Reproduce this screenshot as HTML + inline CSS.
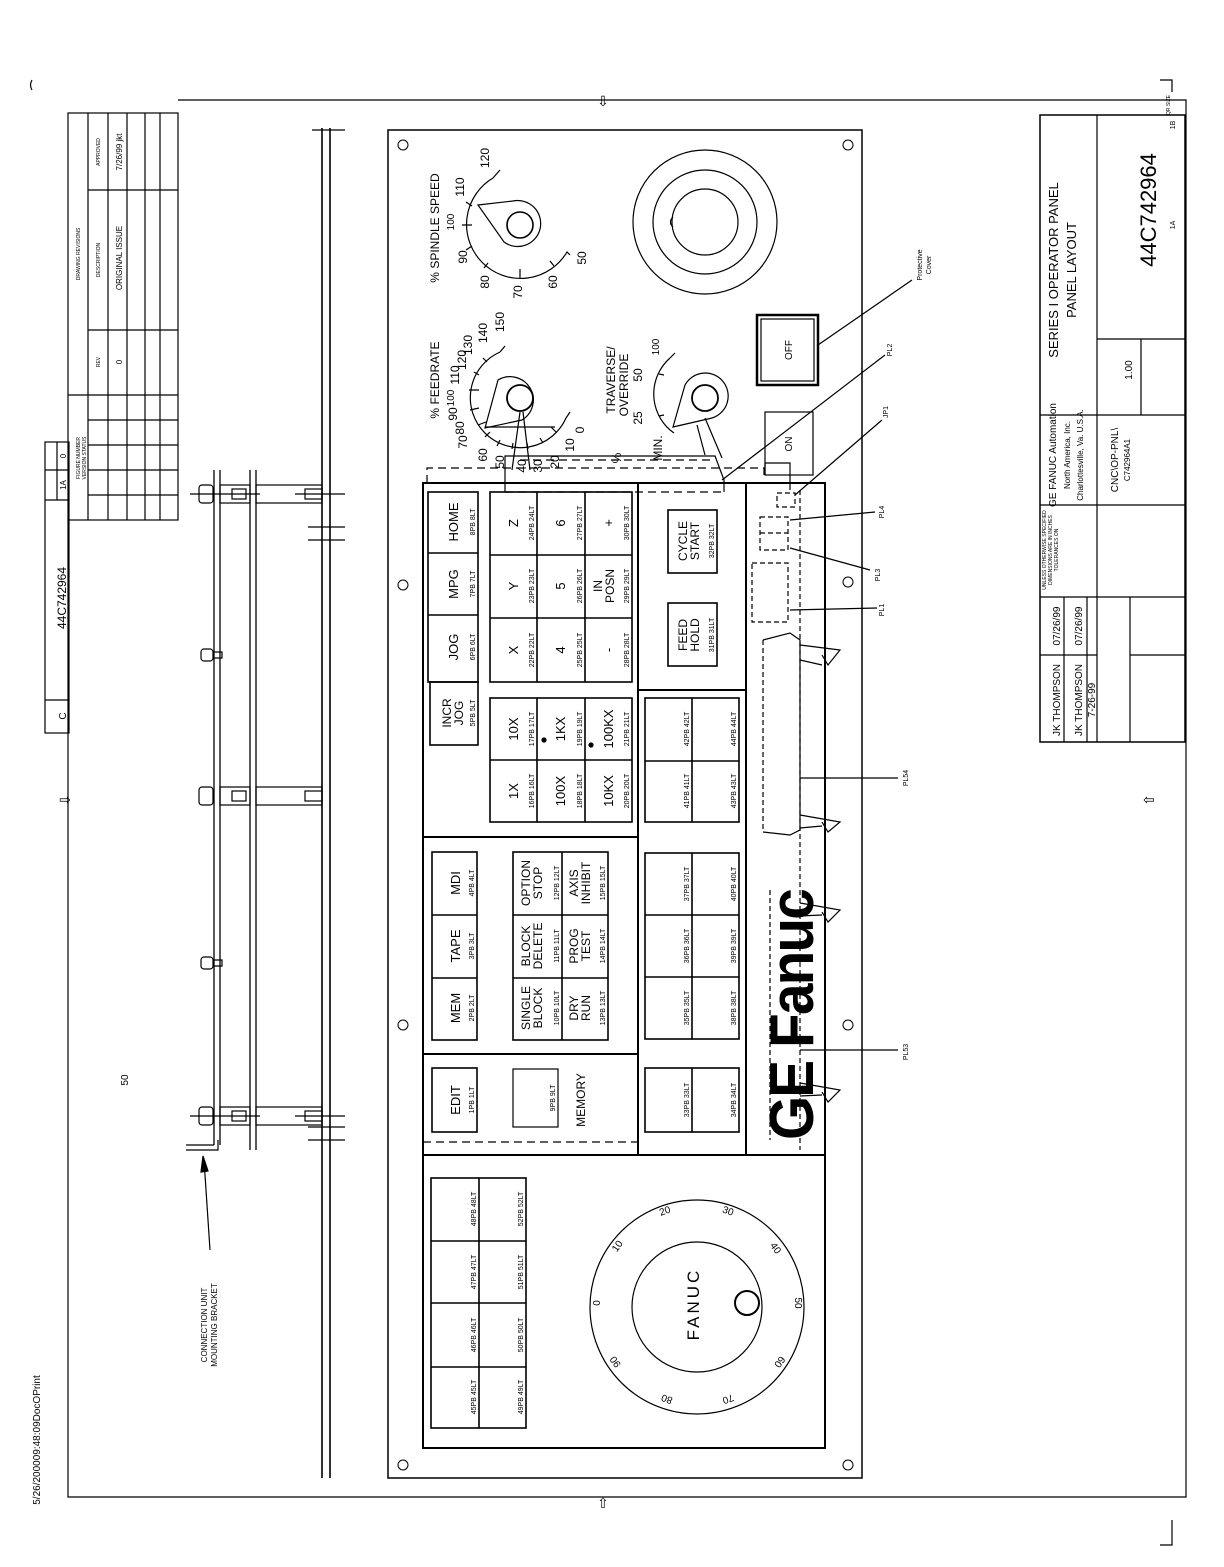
<!DOCTYPE html>
<html><head><meta charset="utf-8"><style>
html,body{margin:0;padding:0;background:#fff}
svg{display:block}
text{font-family:"Liberation Sans",sans-serif;fill:#000}
.m{text-anchor:middle}
.s8{font-size:8px}.s7{font-size:7px}.s5{font-size:5px}
.s12{font-size:12px}.s13{font-size:13px}.s10{font-size:10px}
</style></head><body>
<svg width="1224" height="1567" viewBox="0 0 1224 1567" xmlns="http://www.w3.org/2000/svg">
<g fill="none" stroke="#000" stroke-width="1.2">
<!-- border -->
<path d="M178 100 H1186 V1497 H68 V520"/>
<path d="M32 80 q-3 5 0 10 M1160 80 H1172 V92 M1172 1520 V1545 H1160"/>
<!-- revision table -->
<rect x="68" y="113" width="110" height="407"/>
<path d="M88 113V520M108 113V520M127 113V520M145 113V520M160 113V520M68 395H178M88 190H178M88 330H178M88 420H178M88 445H178M88 470H178M88 495H178"/>
<!-- small box -->
<rect x="45" y="442" width="24" height="291"/>
<path d="M45 470H69M45 500H69M45 700H69M57 442V500"/>
<!-- side view -->
<path d="M322 128V1478M330 128V1478" stroke-width="1.6"/>
<path d="M214 470V1145M220 470V1145M250 470V1150M256 470V1150" stroke-width="1.3"/>
<path d="M186 1150H218V1140M186 1145H214"/>
<g stroke-width="1.2">
<rect x="220" y="485" width="30" height="18"/><rect x="256" y="485" width="66" height="18"/>
<rect x="220" y="787" width="30" height="18"/><rect x="256" y="787" width="66" height="18"/>
<rect x="220" y="1107" width="30" height="18"/><rect x="256" y="1107" width="66" height="18"/>
<rect x="232" y="489" width="14" height="10"/><rect x="305" y="489" width="17" height="10"/>
<rect x="232" y="791" width="14" height="10"/><rect x="305" y="791" width="17" height="10"/>
<rect x="232" y="1111" width="14" height="10"/><rect x="305" y="1111" width="17" height="10"/>
<rect x="199" y="485" width="14" height="18" rx="3"/><rect x="199" y="787" width="14" height="18" rx="3"/><rect x="199" y="1107" width="14" height="18" rx="3"/>
<rect x="201" y="649" width="12" height="12" rx="3"/><path d="M213 652H222V658H213"/>
<rect x="201" y="957" width="12" height="12" rx="3"/><path d="M213 960H222V966H213"/>
<path d="M190 494H260M295 494H345M190 1116H260M295 1116H345M308 527H345M308 540H345M308 1127H345M308 1140H345M312 130H345"/>
</g>
<path d="M210 1250 L204 1160" />
<path d="M201 1172 L203 1156 L208 1171 Z" fill="#000"/>
<!-- panel -->
<rect x="388" y="130" width="474" height="1348" stroke-width="1.5"/>
<g stroke-width="1">
<circle cx="403" cy="145" r="5"/><circle cx="848" cy="145" r="5"/>
<circle cx="403" cy="585" r="5"/><circle cx="848" cy="582" r="5"/>
<circle cx="403" cy="1025" r="5"/><circle cx="848" cy="1025" r="5"/>
<circle cx="403" cy="1465" r="5"/><circle cx="848" cy="1465" r="5"/>
</g>
<rect x="423" y="483" width="402" height="965" stroke-width="2"/>
<path d="M638 483V1155M746 483V1155M423 1155H825M423 837H638M423 1054H638M638 690H746" stroke-width="2"/>
<path d="M423 1142H638" stroke-dasharray="8 5"/>
<g stroke-width="1.6">
<rect x="428" y="492" width="50" height="190"/>
<path d="M428 553H478M428 615H478"/>
<rect x="430" y="682" width="48" height="63"/>
<rect x="490" y="492" width="142" height="190"/>
<path d="M537 492V682M585 492V682M490 555H632M490 618H632"/>
<rect x="490" y="698" width="142" height="124"/>
<path d="M537 698V822M585 698V822M490 760H632"/>
<rect x="432" y="852" width="45" height="188"/>
<path d="M432 915H477M432 978H477"/>
<rect x="513" y="852" width="95" height="188"/>
<path d="M562 852V1040M513 915H608M513 978H608"/>
<rect x="432" y="1068" width="45" height="64"/>
<rect x="513" y="1069" width="45" height="58" stroke-width="1.2"/>
<rect x="668" y="510" width="49" height="63"/>
<rect x="668" y="603" width="49" height="63"/>
<rect x="645" y="698" width="94" height="124"/>
<path d="M692 698V822M645 761H739"/>
<rect x="645" y="853" width="94" height="186"/>
<path d="M692 853V1039M645 915H739M645 977H739"/>
<rect x="645" y="1068" width="94" height="64"/>
<path d="M692 1068V1132"/>
<rect x="431" y="1178" width="95" height="250"/>
<path d="M479 1178V1428M431 1241H526M431 1303H526M431 1367H526"/>
</g>
<circle cx="544" cy="740" r="2" fill="#000"/><circle cx="591" cy="745" r="2" fill="#000"/>
<!-- handwheel -->
<circle cx="697" cy="1307" r="107"/>
<circle cx="697" cy="1307" r="65"/>
<circle cx="747" cy="1303" r="12" stroke-width="2"/>
<!-- top dials -->
<circle cx="705" cy="222" r="72"/>
<circle cx="705" cy="222" r="52"/>
<circle cx="705" cy="222" r="33"/>
<path d="M673 217 q-5 5 0 10" />
<rect x="757" y="315" width="61" height="70" stroke-width="2.5"/>
<rect x="761" y="319" width="53" height="62"/>
<rect x="765" y="412" width="48" height="63"/>
<path d="M765 475 V463 H790 V490"/>
<!-- spindle -->
<circle cx="520" cy="225" r="13" stroke-width="1.6"/>
<path d="M478 205 L513 201 A23 23 0 1 1 504 242 Z"/>
<path d="M493 178 A54 54 0 1 0 567 252 L570 255"/>
<path d="M493 178 L500 170 M466 202l6 4M462 225h10M466 250l6-4M484 268l4-5M520 279v-10M554 266l-4-5"/>
<!-- feedrate -->
<circle cx="520" cy="398" r="13" stroke-width="1.8"/>
<path d="M485 428 L498 380 A23 23 0 1 1 522 420 Z"/>
<path d="M500 352 A50 50 0 1 0 566 418 L570 412"/>
<path d="M500 352 L505 346M483 358l4 4M474 372l5 3M469 390h10M470 410l9-2M478 425l8-3M485 437l5-5M497 446l3-6M512 449l1-6M528 449l-1-6M543 443l-3-5M556 432l-5-5M485 427H555"/>
<path d="M520 412 L512 470 M523 412 L530 470"/>
<!-- traverse -->
<circle cx="705" cy="398" r="13" stroke-width="1.8"/>
<path d="M673 427 L685 385 A23 23 0 1 1 712 418 Z"/>
<path d="M670 358 A48 48 0 0 0 670 430"/>
<path d="M670 358l5-5M659 374l5 1M659 416l5-1M670 430l4 3"/>
<path d="M705 418 L722 458 M697 425 L705 455"/>
<!-- connectors -->
<path d="M505 492 V456 H715 L724 480 V492" />
<path d="M427 483 V468 H764 V478" stroke-dasharray="8 5"/>
<path d="M505 492 H724 M520 460 H715" stroke-dasharray="8 5"/>
<g stroke-dasharray="5 3">
<rect x="777" y="493" width="18" height="14"/>
<rect x="760" y="517" width="28" height="33"/>
<path d="M760 533H788"/>
<rect x="752" y="563" width="36" height="59"/>
<path d="M763 640 V830 M800 490 V1150"/>
<path d="M770 890 V1140"/>
</g>
<path d="M763 640 L790 633 L800 640 V830 L790 835 L763 832"/>
<path d="M800 645 L840 650 L828 665 L822 655 M800 660 L822 665"/>
<path d="M800 815 L840 822 L828 832 L822 822 M800 828 L822 826"/>
<path d="M800 903 L840 910 L828 922 L822 912 M800 916 L822 915"/>
<path d="M800 1083 L840 1090 L828 1102 L822 1092 M800 1096 L822 1095"/>
<!-- leaders -->
<path d="M818 345 L912 280 M722 480 L885 355 M795 495 L882 420 M790 520 L875 512 M790 548 L870 570 M790 610 L877 608 M800 778 L898 778 M800 1050 L898 1050"/>
<!-- title block -->
<rect x="1040" y="115" width="145" height="627" stroke-width="1.5"/>
<path d="M1097 115V742M1097 339H1185M1040 415H1185M1040 505H1185M1040 597H1185M1141 339V415M1064 597V742M1087 597V742M1040 655H1097M1130 597V742M1130 655H1185"/>
</g>
<g font-size="14" class="m">
<text x="603" y="106" class="m">⇩</text>
<text x="603" y="1508" class="m">⇧</text>
<text transform="translate(70 800) rotate(-90)" class="m">⇩</text>
<text transform="translate(1154 800) rotate(-90)" class="m">⇧</text>
</g>

<g class="m">
<text class="s5" transform="translate(80 254) rotate(-90)">DRAWING REVISIONS</text>
<text class="s5" transform="translate(100 260) rotate(-90)">DESCRIPTION</text>
<text class="s5" transform="translate(100 152) rotate(-90)">APPROVED</text>
<text class="s5" transform="translate(100 362) rotate(-90)">REV</text>
<text class="s8" transform="translate(122 258) rotate(-90)">ORIGINAL ISSUE</text>
<text class="s8" transform="translate(122 152) rotate(-90)">7/26/99 jkt</text>
<text class="s8" transform="translate(122 362) rotate(-90)">0</text>
<text class="s5" transform="translate(80 458) rotate(-90)">FIGURE NUMBER</text>
<text class="s5" transform="translate(86 458) rotate(-90)">VERSION STATUS</text>
<text class="s12" transform="translate(66 598) rotate(-90)">44C742964</text>
<text class="s10" transform="translate(66 716) rotate(-90)">C</text>
<text class="s8" transform="translate(66 485) rotate(-90)">1A</text>
<text class="s8" transform="translate(66 456) rotate(-90)">0</text>
<text class="s10" transform="translate(128 1080) rotate(-90)">50</text>
<text class="s8" transform="translate(207 1325) rotate(-90)">CONNECTION UNIT</text>
<text class="s8" transform="translate(217 1325) rotate(-90)">MOUNTING BRACKET</text>
<text class="s10" transform="translate(40 1440) rotate(-90)">5/26/200009:48:09DocOPrint</text>

<text class="s13" transform="translate(458 522) rotate(-90)">HOME</text><text class="s7" transform="translate(475 522) rotate(-90)">8PB   8LT</text>
<text class="s13" transform="translate(458 584) rotate(-90)">MPG</text><text class="s7" transform="translate(475 584) rotate(-90)">7PB   7LT</text>
<text class="s13" transform="translate(458 647) rotate(-90)">JOG</text><text class="s7" transform="translate(475 647) rotate(-90)">6PB   6LT</text>
<text class="s12" transform="translate(451 713) rotate(-90)">INCR</text><text class="s12" transform="translate(463 713) rotate(-90)">JOG</text><text class="s7" transform="translate(475 713) rotate(-90)">5PB   5LT</text>

<text class="s13" transform="translate(518 523) rotate(-90)">Z</text><text class="s7" transform="translate(534 523) rotate(-90)">24PB 24LT</text>
<text class="s13" transform="translate(518 586) rotate(-90)">Y</text><text class="s7" transform="translate(534 586) rotate(-90)">23PB 23LT</text>
<text class="s13" transform="translate(518 650) rotate(-90)">X</text><text class="s7" transform="translate(534 650) rotate(-90)">22PB 22LT</text>
<text class="s13" transform="translate(565 523) rotate(-90)">6</text><text class="s7" transform="translate(582 523) rotate(-90)">27PB 27LT</text>
<text class="s13" transform="translate(565 586) rotate(-90)">5</text><text class="s7" transform="translate(582 586) rotate(-90)">26PB 26LT</text>
<text class="s13" transform="translate(565 650) rotate(-90)">4</text><text class="s7" transform="translate(582 650) rotate(-90)">25PB 25LT</text>
<text class="s13" transform="translate(613 523) rotate(-90)">+</text><text class="s7" transform="translate(629 523) rotate(-90)">30PB 30LT</text>
<text class="s12" transform="translate(602 586) rotate(-90)">IN</text><text class="s12" transform="translate(614 586) rotate(-90)">POSN</text><text class="s7" transform="translate(629 586) rotate(-90)">29PB 29LT</text>
<text class="s13" transform="translate(613 650) rotate(-90)">-</text><text class="s7" transform="translate(629 650) rotate(-90)">28PB 28LT</text>

<text class="s13" transform="translate(518 729) rotate(-90)">10X</text><text class="s7" transform="translate(534 729) rotate(-90)">17PB 17LT</text>
<text class="s13" transform="translate(518 791) rotate(-90)">1X</text><text class="s7" transform="translate(534 791) rotate(-90)">16PB 16LT</text>
<text class="s13" transform="translate(565 729) rotate(-90)">1KX</text><text class="s7" transform="translate(582 729) rotate(-90)">19PB 19LT</text>
<text class="s13" transform="translate(565 791) rotate(-90)">100X</text><text class="s7" transform="translate(582 791) rotate(-90)">18PB 18LT</text>
<text class="s13" transform="translate(613 729) rotate(-90)">100KX</text><text class="s7" transform="translate(629 729) rotate(-90)">21PB 21LT</text>
<text class="s13" transform="translate(613 791) rotate(-90)">10KX</text><text class="s7" transform="translate(629 791) rotate(-90)">20PB 20LT</text>

<text class="s13" transform="translate(460 883) rotate(-90)">MDI</text><text class="s7" transform="translate(474 883) rotate(-90)">4PB   4LT</text>
<text class="s13" transform="translate(460 946) rotate(-90)">TAPE</text><text class="s7" transform="translate(474 946) rotate(-90)">3PB   3LT</text>
<text class="s13" transform="translate(460 1008) rotate(-90)">MEM</text><text class="s7" transform="translate(474 1008) rotate(-90)">2PB   2LT</text>
<text class="s12" transform="translate(530 883) rotate(-90)">OPTION</text><text class="s12" transform="translate(542 883) rotate(-90)">STOP</text><text class="s7" transform="translate(559 883) rotate(-90)">12PB 12LT</text>
<text class="s12" transform="translate(530 946) rotate(-90)">BLOCK</text><text class="s12" transform="translate(542 946) rotate(-90)">DELETE</text><text class="s7" transform="translate(559 946) rotate(-90)">11PB 11LT</text>
<text class="s12" transform="translate(530 1008) rotate(-90)">SINGLE</text><text class="s12" transform="translate(542 1008) rotate(-90)">BLOCK</text><text class="s7" transform="translate(559 1008) rotate(-90)">10PB 10LT</text>
<text class="s12" transform="translate(578 883) rotate(-90)">AXIS</text><text class="s12" transform="translate(590 883) rotate(-90)">INHIBIT</text><text class="s7" transform="translate(605 883) rotate(-90)">15PB 15LT</text>
<text class="s12" transform="translate(578 946) rotate(-90)">PROG</text><text class="s12" transform="translate(590 946) rotate(-90)">TEST</text><text class="s7" transform="translate(605 946) rotate(-90)">14PB 14LT</text>
<text class="s12" transform="translate(578 1008) rotate(-90)">DRY</text><text class="s12" transform="translate(590 1008) rotate(-90)">RUN</text><text class="s7" transform="translate(605 1008) rotate(-90)">13PB 13LT</text>

<text class="s13" transform="translate(460 1100) rotate(-90)">EDIT</text><text class="s7" transform="translate(474 1100) rotate(-90)">1PB   1LT</text>
<text class="s7" transform="translate(555 1098) rotate(-90)">9PB   9LT</text>
<text class="s12" transform="translate(585 1100) rotate(-90)">MEMORY</text>

<text class="s12" transform="translate(687 541) rotate(-90)">CYCLE</text><text class="s12" transform="translate(699 541) rotate(-90)">START</text><text class="s7" transform="translate(714 541) rotate(-90)">32PB 32LT</text>
<text class="s12" transform="translate(687 635) rotate(-90)">FEED</text><text class="s12" transform="translate(699 635) rotate(-90)">HOLD</text><text class="s7" transform="translate(714 635) rotate(-90)">31PB 31LT</text>
<text class="s7" transform="translate(689 729) rotate(-90)">42PB     42LT</text><text class="s7" transform="translate(689 791) rotate(-90)">41PB     41LT</text>
<text class="s7" transform="translate(736 729) rotate(-90)">44PB     44LT</text><text class="s7" transform="translate(736 791) rotate(-90)">43PB     43LT</text>
<text class="s7" transform="translate(689 884) rotate(-90)">37PB     37LT</text><text class="s7" transform="translate(689 946) rotate(-90)">36PB     36LT</text><text class="s7" transform="translate(689 1008) rotate(-90)">35PB     35LT</text>
<text class="s7" transform="translate(736 884) rotate(-90)">40PB     40LT</text><text class="s7" transform="translate(736 946) rotate(-90)">39PB     39LT</text><text class="s7" transform="translate(736 1008) rotate(-90)">38PB     38LT</text>
<text class="s7" transform="translate(689 1100) rotate(-90)">33PB     33LT</text><text class="s7" transform="translate(736 1100) rotate(-90)">34PB     34LT</text>

<text class="s7" transform="translate(476 1209) rotate(-90)">48PB     48LT</text><text class="s7" transform="translate(476 1272) rotate(-90)">47PB     47LT</text><text class="s7" transform="translate(476 1335) rotate(-90)">46PB     46LT</text><text class="s7" transform="translate(476 1397) rotate(-90)">45PB     45LT</text>
<text class="s7" transform="translate(523 1209) rotate(-90)">52PB     52LT</text><text class="s7" transform="translate(523 1272) rotate(-90)">51PB     51LT</text><text class="s7" transform="translate(523 1335) rotate(-90)">50PB     50LT</text><text class="s7" transform="translate(523 1397) rotate(-90)">49PB     49LT</text>

<text style="font-size:17px;letter-spacing:3px" transform="translate(699 1304) rotate(-90)">FANUC</text>
<text class="s10" transform="translate(600 1303) rotate(-90)">0</text>
<text class="s10" transform="translate(620 1248) rotate(-55)">10</text>
<text class="s10" transform="translate(666 1214) rotate(-20)">20</text>
<text class="s10" transform="translate(727 1214) rotate(20)">30</text>
<text class="s10" transform="translate(773 1250) rotate(55)">40</text>
<text class="s10" transform="translate(795 1303) rotate(90)">50</text>
<text class="s10" transform="translate(777 1360) rotate(125)">60</text>
<text class="s10" transform="translate(727 1396) rotate(160)">70</text>
<text class="s10" transform="translate(668 1396) rotate(200)">80</text>
<text class="s10" transform="translate(618 1360) rotate(235)">90</text>

<text class="s12" transform="translate(439 228) rotate(-90)">% SPINDLE SPEED</text>
<text class="s12" transform="translate(489 158) rotate(-90)">120</text>
<text class="s12" transform="translate(464 187) rotate(-90)">110</text>
<text class="s12" transform="translate(467 257) rotate(-90)">90</text>
<text class="s12" transform="translate(489 282) rotate(-90)">80</text>
<text class="s12" transform="translate(522 292) rotate(-90)">70</text>
<text class="s12" transform="translate(557 282) rotate(-90)">60</text>
<text class="s12" transform="translate(586 258) rotate(-90)">50</text>
<text class="s10" transform="translate(454 222) rotate(-90)">100</text>
<text class="s12" transform="translate(439 380) rotate(-90)">% FEEDRATE</text>
<text class="s12" transform="translate(504 322) rotate(-90)">150</text>
<text class="s12" transform="translate(487 333) rotate(-90)">140</text>
<text class="s12" transform="translate(472 345) rotate(-90)">130</text>
<text class="s12" transform="translate(466 360) rotate(-90)">120</text>
<text class="s12" transform="translate(459 375) rotate(-90)">110</text>
<text class="s10" transform="translate(454 398) rotate(-90)">100</text>
<text class="s12" transform="translate(457 414) rotate(-90)">90</text>
<text class="s12" transform="translate(464 428) rotate(-90)">80</text>
<text class="s12" transform="translate(467 442) rotate(-90)">70</text>
<text class="s12" transform="translate(487 455) rotate(-90)">60</text>
<text class="s12" transform="translate(504 462) rotate(-90)">50</text>
<text class="s12" transform="translate(526 466) rotate(-90)">40</text>
<text class="s12" transform="translate(542 466) rotate(-90)">30</text>
<text class="s12" transform="translate(559 462) rotate(-90)">20</text>
<text class="s12" transform="translate(574 445) rotate(-90)">10</text>
<text class="s12" transform="translate(584 430) rotate(-90)">0</text>
<text class="s12" transform="translate(615 380) rotate(-90)">TRAVERSE/</text>
<text class="s12" transform="translate(628 385) rotate(-90)">OVERRIDE</text>
<text class="s12" transform="translate(642 375) rotate(-90)">50</text>
<text class="s12" transform="translate(642 418) rotate(-90)">25</text>
<text class="s12" transform="translate(662 448) rotate(-90)">MIN.</text>
<text class="s12" transform="translate(621 458) rotate(-90)">%</text>
<text class="s10" transform="translate(659 347) rotate(-90)">100</text>
<text class="s10" transform="translate(792 350) rotate(-90)">OFF</text>
<text class="s10" transform="translate(792 444) rotate(-90)">ON</text>

<text style="font-size:62px;font-weight:bold;letter-spacing:-2px" textLength="250" lengthAdjust="spacingAndGlyphs" transform="translate(813 1015) rotate(-90)">GE Fanuc</text>

<text class="s7" transform="translate(922 265) rotate(-90)">Protective</text>
<text class="s7" transform="translate(931 265) rotate(-90)">Cover</text>
<text class="s7" transform="translate(892 350) rotate(-90)">PL2</text>
<text class="s7" transform="translate(888 412) rotate(-90)">JP1</text>
<text class="s7" transform="translate(884 512) rotate(-90)">PL4</text>
<text class="s7" transform="translate(880 575) rotate(-90)">PL3</text>
<text class="s7" transform="translate(884 610) rotate(-90)">PL1</text>
<text class="s7" transform="translate(908 778) rotate(-90)">PL54</text>
<text class="s7" transform="translate(908 1052) rotate(-90)">PL53</text>

<text class="s13" transform="translate(1058 270) rotate(-90)">SERIES I OPERATOR PANEL</text>
<text class="s13" transform="translate(1076 270) rotate(-90)">PANEL LAYOUT</text>
<text style="font-size:22px" transform="translate(1156 210) rotate(-90)">44C742964</text>
<text class="s7" transform="translate(1175 225) rotate(-90)">1A</text>
<text class="s7" transform="translate(1175 125) rotate(-90)">1B</text>
<text class="s10" transform="translate(1132 370) rotate(-90)">1.00</text>
<text class="s10" transform="translate(1056 455) rotate(-90)">GE FANUC Automation</text>
<text class="s8" transform="translate(1070 455) rotate(-90)">North America, Inc.</text>
<text class="s8" transform="translate(1083 455) rotate(-90)">Charlottesville, Va. U.S.A.</text>
<text class="s10" transform="translate(1118 460) rotate(-90)">CNC\OP-PNL\</text>
<text class="s8" transform="translate(1130 460) rotate(-90)">C742964A1</text>
<text class="s5" transform="translate(1046 550) rotate(-90)">UNLESS OTHERWISE SPECIFIED</text>
<text class="s5" transform="translate(1052 550) rotate(-90)">DIMENSIONS ARE IN INCHES</text>
<text class="s5" transform="translate(1058 550) rotate(-90)">TOLERANCES ON</text>
<text class="s10" transform="translate(1060 626) rotate(-90)">07/26/99</text>
<text class="s10" transform="translate(1082 626) rotate(-90)">07/26/99</text>
<text class="s10" transform="translate(1060 700) rotate(-90)">JK THOMPSON</text>
<text class="s10" transform="translate(1082 700) rotate(-90)">JK THOMPSON</text>
<text class="s10" transform="translate(1095 700) rotate(-90)">7-26-99</text>
<text class="s5" transform="translate(1170 105) rotate(-90)">QR SIZE</text>
</g>
</svg>
</body></html>
